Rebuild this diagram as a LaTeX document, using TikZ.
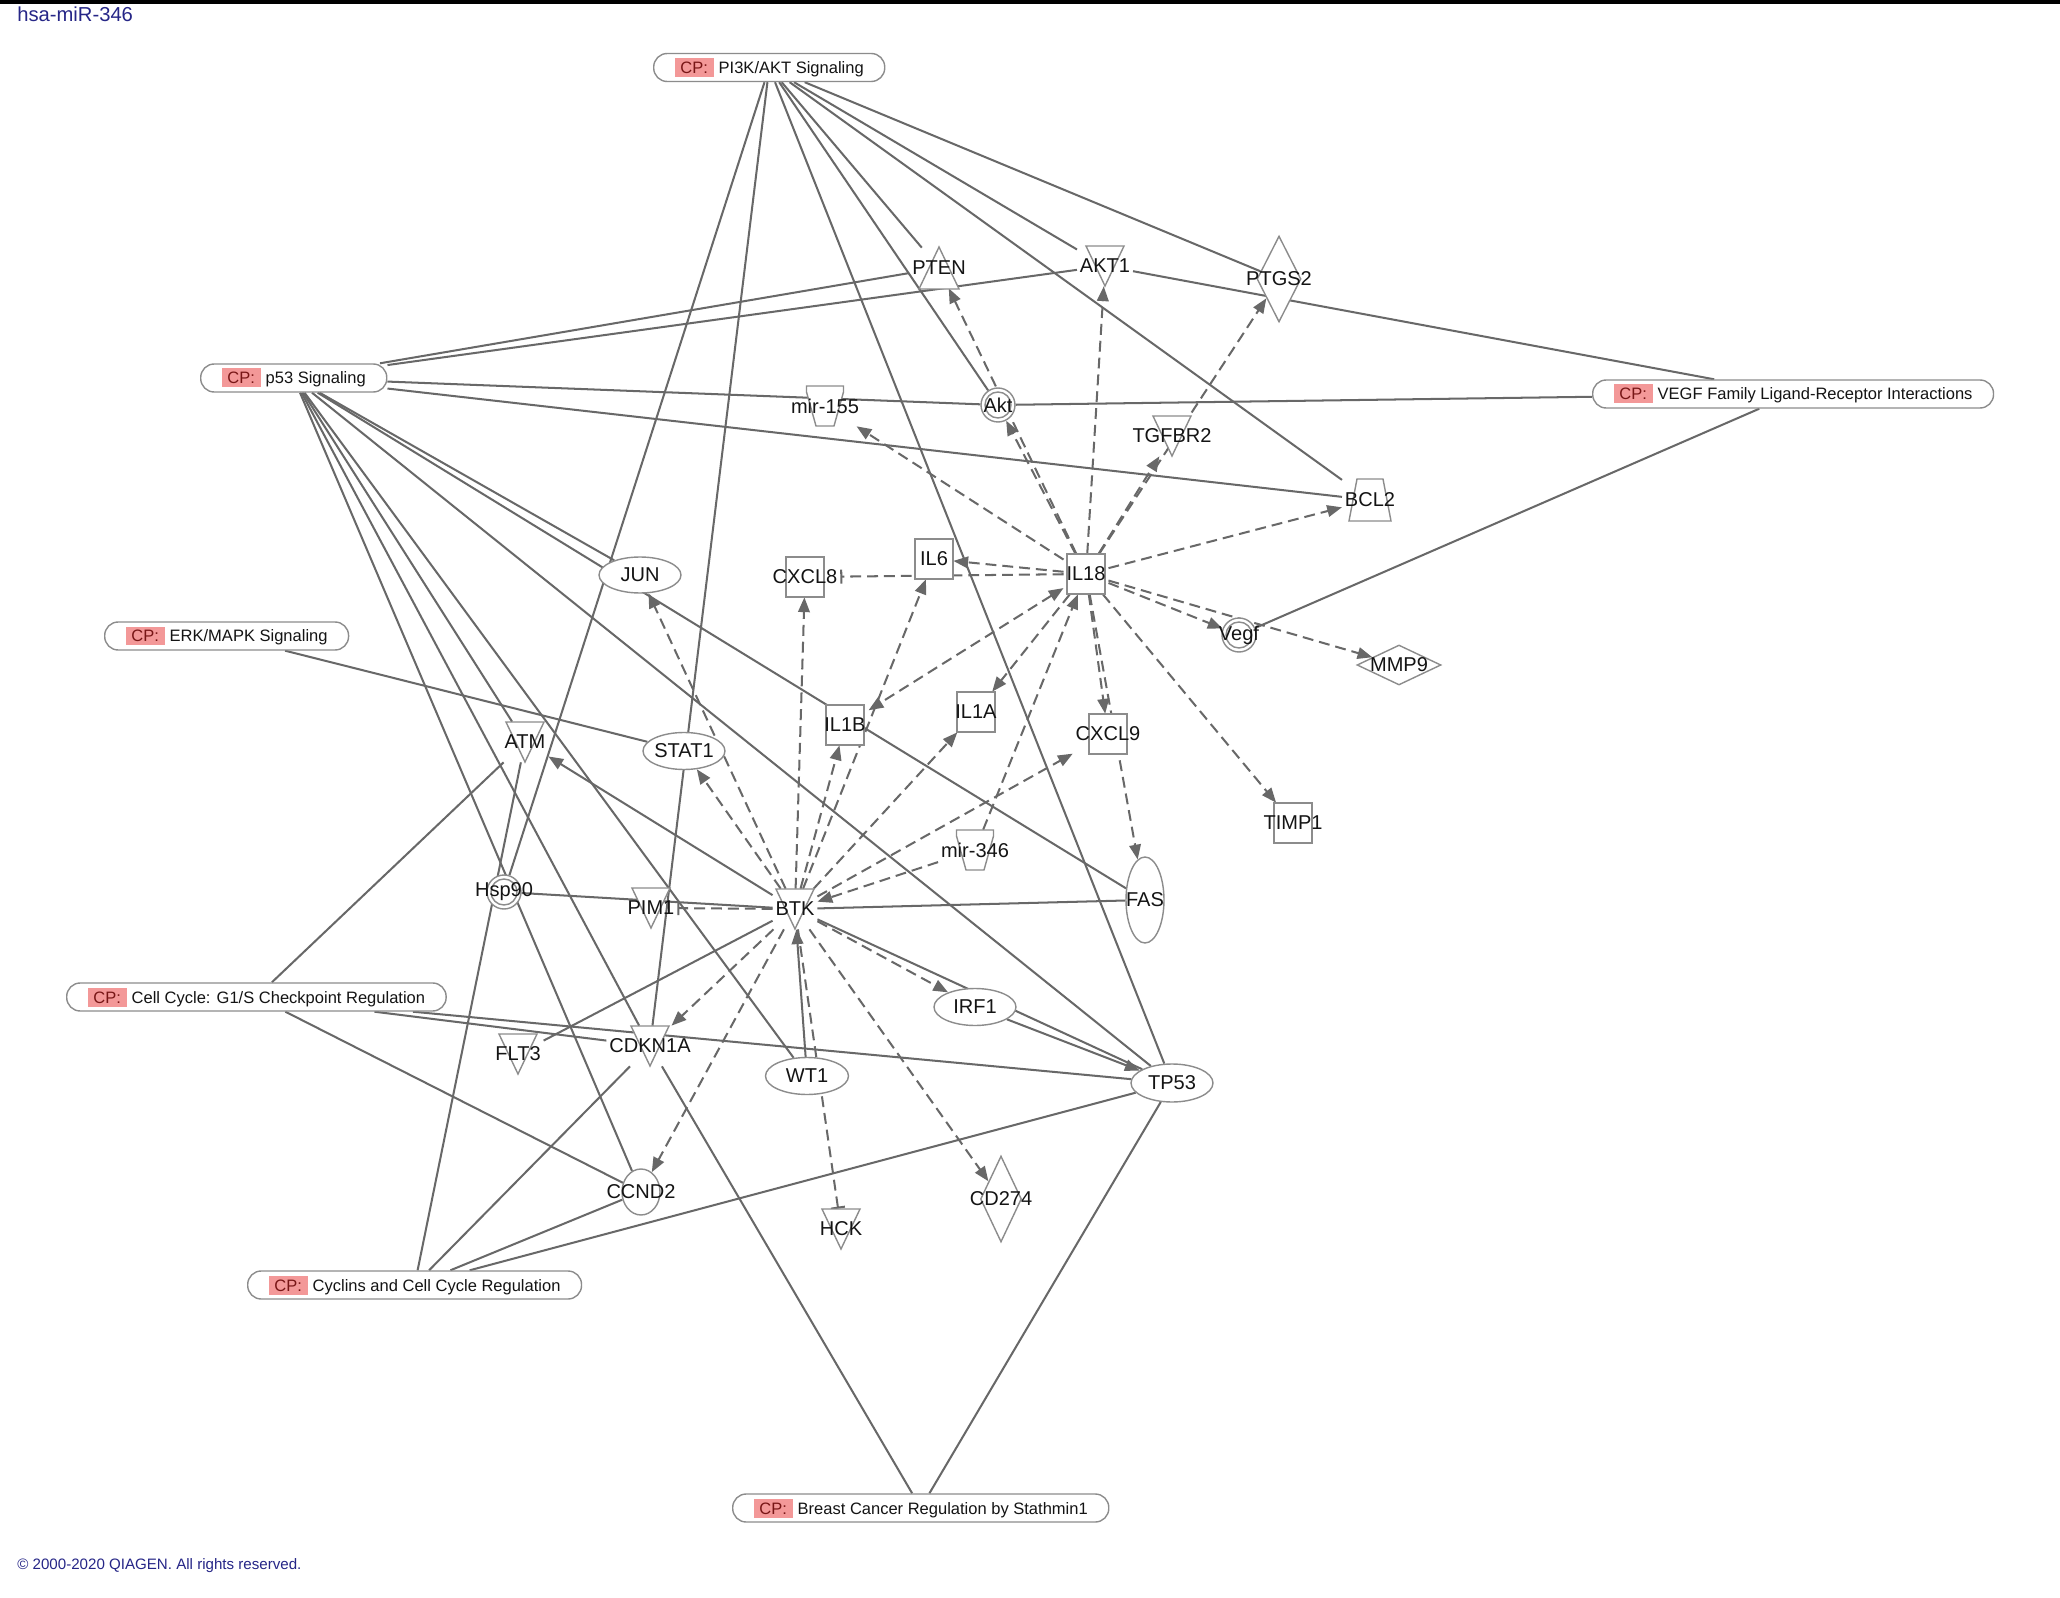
\documentclass[tikz,border=0pt]{standalone}
\usepackage{fontspec}
\setmainfont{Liberation Sans}
\usetikzlibrary{shapes.geometric,arrows.meta}
\pgfdeclarelayer{back}
\pgfdeclarelayer{edges}
\pgfsetlayers{back,edges,main}
\definecolor{edgec}{RGB}{104,104,104}
\definecolor{nodec}{RGB}{140,140,140}
\definecolor{cppink}{RGB}{243,152,152}
\definecolor{cpred}{RGB}{120,22,22}
\definecolor{navy}{RGB}{38,38,135}
\definecolor{txt}{RGB}{20,20,20}
\newcommand\gfont{\fontsize{11.4}{13}\selectfont}
\newcommand\cpfont{\fontsize{9.4}{11}\selectfont}
\newcommand\cpbox{{\setlength{\fboxsep}{0pt}\colorbox{cppink}{\makebox[0.78cm]{\rule[-0.07cm]{0pt}{0.38cm}\textcolor{cpred}{CP:}}}}\hspace{0.1cm}}
\tikzset{
  ed/.style={draw=edgec,line width=1.15pt},
  da/.style={ed,dash pattern=on 6.2pt off 3.4pt},
  ahead/.style={-{Triangle[length=8.4pt,width=6.6pt]}},
  bhead/.style={{Triangle[length=8.4pt,width=6.6pt]}-{Triangle[length=8.4pt,width=6.6pt]}},
  barhead/.style={-{Bar[width=8pt,line width=1.15pt]}},
  shp/.style={draw=nodec,fill=white,line width=0.8pt},
  pill/.style={shp,rectangle,rounded corners=0.27cm,minimum height=0.56cm,inner xsep=0.42cm,inner ysep=0.05cm,font=\cpfont,text=txt,anchor=west},
  lbl/.style={font=\gfont,text=txt,inner sep=0pt},
  gbox/.style={lbl,rectangle,inner sep=1.5pt,minimum width=0.76cm,minimum height=0.8cm},
  gell/.style={shp,ellipse,inner sep=0pt},
  dcirc/.style={shp,circle,inner sep=0pt,minimum size=0.68cm},
}
\newcommand\gKin[4]{\filldraw[shp,shift={(#2,#3)}] (-19,-20) -- (19,-20) -- (0,20) -- cycle;
  \node[gbox] (#1) at (#2,#3) {#4};}
\newcommand\gPhos[4]{\filldraw[shp,shift={(#2,#3)}] (-20,21) -- (20,21) -- (0,-21) -- cycle;
  \node[gbox] (#1) at (#2,#3) {#4};}
\newcommand\gSq[4]{\filldraw[shp,shift={(#2,#3)}] (-19,-20) rectangle (19,20);
  \node[gbox] (#1) at (#2,#3) {#4};}
\newcommand\gMir[4]{\filldraw[shp,shift={(#2,#3)}] (-18.5,-20) -- (18.5,-20) -- (18.5,-14) -- (9,20) -- (-9,20) -- (-18.5,-14) -- cycle;
  \node[gbox] (#1) at (#2,#3) {#4};}
\newcommand\gTrans[4]{\filldraw[shp,shift={(#2,#3)}] (-13,-21) -- (13,-21) -- (21,21) -- (-21,21) -- cycle;
  \node[gbox] (#1) at (#2,#3) {#4};}
\newcommand\gEll[6]{\node[gell,minimum width=#4,minimum height=#5] (#1) at (#2,#3) {};
  \node[lbl] at (#1) {#6};}
\newcommand\gCirc[4]{\node[dcirc] (#1) at (#2,#3) {};
  \draw[draw=nodec,line width=0.8pt] (#1.center) circle (13);
  \node[lbl] at (#1) {#4};}
\newcommand\gDia[6]{\node[shp,diamond,inner sep=0pt,minimum width=#4,minimum height=#5] (#1) at (#2,#3) {};
  \node[lbl] at (#1) {#6};}
\begin{document}
\begin{tikzpicture}[x=0.02cm,y=-0.02cm]
\useasboundingbox (0,0) rectangle (2060,1598);
\begin{pgfonlayer}{back}
\fill[white] (0,0) rectangle (2060,1598);
\fill[black] (0,0) rectangle (2060,4);
\end{pgfonlayer}

% titles
\node[anchor=west,font=\fontsize{11.5}{13}\selectfont,text=navy,inner sep=0pt] (title) at (17,14) {hsa-miR-346};
\node[anchor=west,font=\fontsize{8.6}{10}\selectfont,text=navy,inner sep=0pt] (copy) at (17,1566) {© 2000-2020 QIAGEN. All rights reserved.};

% canonical pathway pills
\node[pill] (pi3k) at (653,67.5) {\cpbox PI3K/AKT Signaling};
\node[pill] (p53) at (200,378) {\cpbox p53 Signaling};
\node[pill] (erk) at (104,636) {\cpbox ERK/MAPK Signaling};
\node[pill] (g1s) at (66,997) {\cpbox Cell Cycle: G1/S Checkpoint Regulation};
\node[pill] (cyc) at (247,1285) {\cpbox Cyclins and Cell Cycle Regulation};
\node[pill] (brca) at (732,1508) {\cpbox Breast Cancer Regulation by Stathmin1};
\node[pill] (vegfcp) at (1592,394) {\cpbox VEGF Family Ligand-Receptor Interactions};

% molecules
\gPhos{pten}{939}{268}{PTEN}
\gKin{akt1}{1105}{266}{AKT1}
\gDia{ptgs2}{1279}{279}{0.88cm}{1.72cm}{PTGS2}
\gMir{mir155}{825}{406}{mir-155}
\gCirc{akt}{998}{405}{Akt}
\gKin{tgfbr2}{1172}{436}{TGFBR2}
\gTrans{bcl2}{1370}{500}{BCL2}
\gEll{jun}{640}{575}{1.64cm}{0.72cm}{JUN}
\gSq{cxcl8}{805}{577}{CXCL8}
\gSq{il6}{934}{559}{IL6}
\gSq{il18}{1086}{574}{IL18}
\gCirc{vegf}{1239}{635}{Vegf}
\gDia{mmp9}{1399}{665}{1.68cm}{0.8cm}{MMP9}
\gSq{il1b}{845}{725}{IL1B}
\gSq{il1a}{976}{712}{IL1A}
\gSq{cxcl9}{1108}{734}{CXCL9}
\gEll{stat1}{684}{751}{1.64cm}{0.74cm}{STAT1}
\gKin{atm}{525}{742}{ATM}
\gSq{timp1}{1293}{823}{TIMP1}
\gMir{mir346}{975}{850}{mir-346}
\gEll{fas}{1145}{900}{0.76cm}{1.72cm}{FAS}
\gCirc{hsp90}{504}{892}{Hsp90}
\gKin{pim1}{651}{908}{PIM1}
\gKin{btk}{795}{909}{BTK}
\gEll{irf1}{975}{1007}{1.64cm}{0.74cm}{IRF1}
\gKin{flt3}{518}{1054}{FLT3}
\gKin{cdkn1a}{650}{1046}{CDKN1A}
\gEll{wt1}{807}{1076}{1.66cm}{0.74cm}{WT1}
\gEll{tp53}{1172}{1083}{1.64cm}{0.76cm}{TP53}
\gEll{ccnd2}{641}{1192}{0.76cm}{0.92cm}{CCND2}
\gDia{cd274}{1001}{1199}{0.82cm}{1.72cm}{CD274}
\gKin{hck}{841}{1229}{HCK}

\begin{pgfonlayer}{edges}
% solid relations
\draw[ed] (pi3k) -- (hsp90);
\draw[ed] (pi3k) -- (cdkn1a);
\draw[ed] (pi3k) -- (tp53);
\draw[ed] (pi3k) -- (akt);
\draw[ed] (pi3k) -- (pten);
\draw[ed] (pi3k) -- (akt1);
\draw[ed] (pi3k) -- (bcl2);
\draw[ed] (pi3k) -- (ptgs2);
\draw[ed] (p53) -- (pten);
\draw[ed] (p53) -- (akt1);
\draw[ed] (p53) -- (akt);
\draw[ed] (p53) -- (bcl2);
\draw[ed] (p53) -- (jun);
\draw[ed] (p53) -- (fas);
\draw[ed] (p53) -- (tp53);
\draw[ed] (p53) -- (wt1);
\draw[ed] (p53) -- (atm);
\draw[ed] (p53) -- (cdkn1a);
\draw[ed] (p53) -- (ccnd2);
\draw[ed] (erk) -- (stat1);
\draw[ed] (g1s) -- (atm);
\draw[ed] (g1s) -- (cdkn1a);
\draw[ed] (g1s) -- (tp53);
\draw[ed] (g1s) -- (ccnd2);
\draw[ed] (cyc) -- (atm);
\draw[ed] (cyc) -- (cdkn1a);
\draw[ed] (cyc) -- (ccnd2);
\draw[ed] (cyc) -- (tp53);
\draw[ed] (brca) -- (cdkn1a);
\draw[ed] (brca) -- (tp53);
\draw[ed] (vegfcp) -- (akt);
\draw[ed] (vegfcp) -- (akt1);
\draw[ed] (vegfcp) -- (vegf);
\draw[ed] (hsp90) -- (btk);
\draw[ed] (flt3) -- (btk);
\draw[ed] (fas) -- (btk);
\draw[ed] (btk) -- (tp53);
\draw[ed,ahead] (btk) -- (atm);
\draw[ed,ahead] (wt1) -- (btk);
\draw[ed,ahead] (irf1) -- (tp53);
% dashed relations
\draw[da,ahead] (il18) -- (pten);
\draw[da,ahead] (il18) -- (akt);
\draw[da,ahead] (il18) -- (akt1);
\draw[da,ahead] (il18) -- (ptgs2);
\draw[da,ahead] (il18) -- (tgfbr2);
\draw[da,ahead] (il18) -- (mir155);
\draw[da,ahead] (il18) -- (bcl2);
\draw[da,ahead] (il18) -- (il6);
\draw[da,barhead] (il18) -- (cxcl8);
\draw[da,bhead] (il18) -- (il1b);
\draw[da,ahead] (il18) -- (il1a);
\draw[da,ahead] (il18) -- (cxcl9);
\draw[da,ahead] (il18) -- (fas);
\draw[da,ahead] (il18) -- (vegf);
\draw[da,ahead] (il18) -- (mmp9);
\draw[da,ahead] (il18) -- (timp1);
\draw[da,ahead] (mir346) -- (il18);
\draw[da,ahead] (mir346) -- (btk);
\draw[da,ahead] (btk) -- (stat1);
\draw[da,ahead] (btk) -- (jun);
\draw[da,ahead] (btk) -- (cxcl8);
\draw[da,ahead] (btk) -- (il6);
\draw[da,ahead] (btk) -- (il1b);
\draw[da,ahead] (btk) -- (il1a);
\draw[da,ahead] (btk) -- (cxcl9);
\draw[da,ahead] (btk) -- (irf1);
\draw[da,ahead] (btk) -- (cd274);
\draw[da,ahead] (btk) -- (ccnd2);
\draw[da,ahead] (btk) -- (cdkn1a);
\draw[da,barhead] (btk) -- (pim1);
\draw[da,barhead] (btk) -- (hck);
\end{pgfonlayer}
\end{tikzpicture}
\end{document}
